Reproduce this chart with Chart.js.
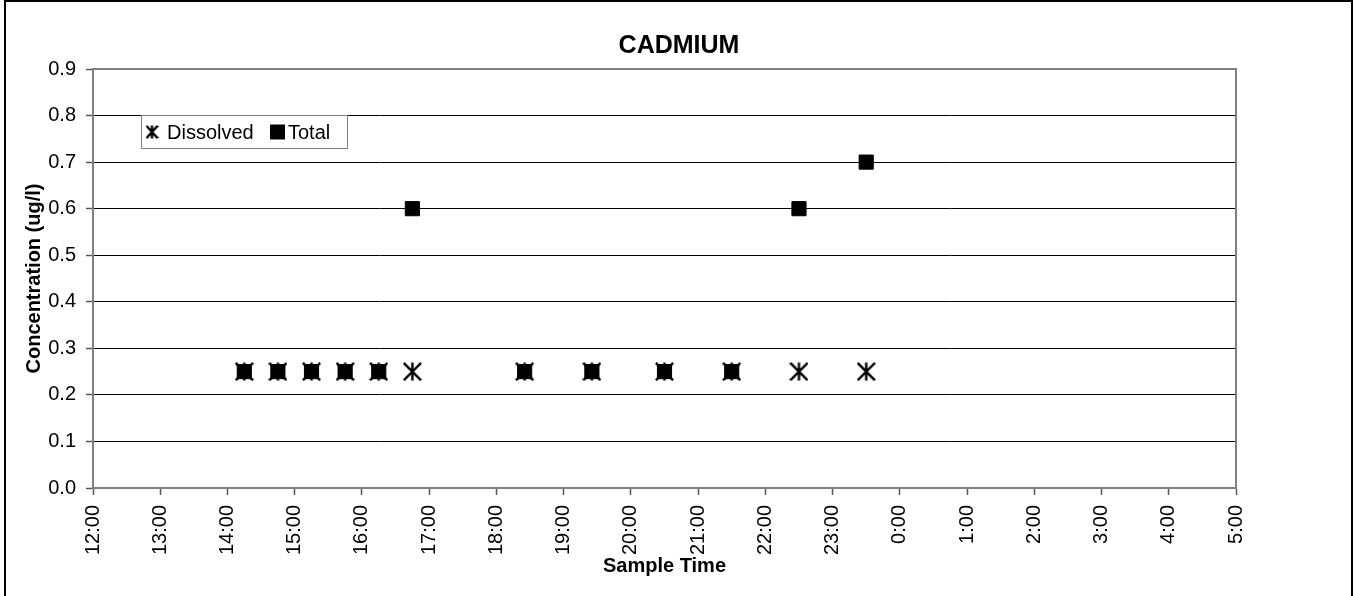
<!DOCTYPE html>
<html>
<head>
<meta charset="utf-8">
<title>CADMIUM</title>
<script src="https://cdn.jsdelivr.net/npm/chart.js@4.4.1/dist/chart.umd.min.js"></script>
<style>
  html, body { margin: 0; padding: 0; background: #fff; }
  #wrap { width: 1355px; height: 596px; }
</style>
</head>
<body>
<div id="wrap"><canvas id="cadChart" width="1355" height="596"></canvas></div>
<script>
// sample times in hours after midnight of day 1 (24+ = next day)
const sampleTimes = [14.25, 14.75, 15.25, 15.75, 16.25, 16.75, 18.42, 19.42, 20.5, 21.5, 22.5, 23.5]
const dissolved = [0.25, 0.25, 0.25, 0.25, 0.25, 0.25, 0.25, 0.25, 0.25, 0.25, 0.25, 0.25]
const total = [0.25, 0.25, 0.25, 0.25, 0.25, 0.6, 0.25, 0.25, 0.25, 0.25, 0.6, 0.7]
const seriesNames = ["Dissolved", "Total"]
const chartTitle = "CADMIUM"
const yTitle = "Concentration (ug/l)"
const xTitle = "Sample Time"

const FONT = "'Liberation Sans', Arial, sans-serif"

Chart.defaults.font.family = FONT
Chart.defaults.color = "#000"

// Excel style star marker: X plus a vertical bar
function starMarker(w, h, lw) {
  const c = document.createElement("canvas")
  c.width = w
  c.height = h
  const g = c.getContext("2d")
  g.strokeStyle = "#000"
  g.lineWidth = lw
  g.lineCap = "square"
  const p = lw / 2 + 0.5
  g.beginPath()
  g.moveTo(p, p)
  g.lineTo(w - p, h - p)
  g.moveTo(w - p, p)
  g.lineTo(p, h - p)
  g.moveTo(w / 2, p)
  g.lineTo(w / 2, h - p)
  g.stroke()
  return c
}

const toPoints = (vals) => sampleTimes.map((t, i) => ({ x: t, y: vals[i] }))

// frame, plot border, title and the legend box
const decorations = {
  id: "decorations",
  beforeDraw(chart) {
    const ctx = chart.ctx
    ctx.save()
    ctx.fillStyle = "#fff"
    ctx.fillRect(0, 0, chart.width, chart.height)
    ctx.strokeStyle = "#000"
    ctx.lineWidth = 2
    ctx.strokeRect(5, 1, 1347, 700)
    ctx.restore()
  },
  afterDraw(chart) {
    const ctx = chart.ctx
    const a = chart.chartArea
    ctx.save()
    // top and right plot border
    ctx.strokeStyle = "#808080"
    ctx.lineWidth = 2
    ctx.beginPath()
    ctx.moveTo(a.left, a.top)
    ctx.lineTo(a.right, a.top)
    ctx.lineTo(a.right, a.bottom)
    ctx.stroke()

    // title
    ctx.fillStyle = "#000"
    ctx.font = "bold 25px " + FONT
    ctx.textAlign = "center"
    ctx.textBaseline = "middle"
    ctx.fillText(chartTitle, 679, 46)

    // legend
    const lx = 141, ly = 115, lw = 206, lh = 33
    ctx.fillStyle = "#fff"
    ctx.fillRect(lx, ly, lw, lh)
    ctx.strokeStyle = "#808080"
    ctx.lineWidth = 1
    ctx.strokeRect(lx + 0.5, ly + 0.5, lw, lh)
    const cy = ly + lh / 2 + 0.5
    const st = starMarker(13, 14, 2.4)
    ctx.drawImage(st, 152 - 6.5, cy - 7)
    ctx.fillStyle = "#000"
    ctx.font = "20px " + FONT
    ctx.textAlign = "left"
    ctx.textBaseline = "middle"
    ctx.fillText(seriesNames[0], 167, cy + 1)
    ctx.fillRect(270, cy - 7.5, 15, 15)
    ctx.fillText(seriesNames[1], 288, cy + 1)
    ctx.restore()
  },
}

const ctx = document.getElementById("cadChart").getContext("2d")
new Chart(ctx, {
  type: "scatter",
  data: {
    datasets: [
      {
        label: seriesNames[1],
        data: toPoints(total),
        pointStyle: "rect",
        pointRadius: 10,
        backgroundColor: "#000",
        borderColor: "#000",
        borderWidth: 1,
      },
      {
        label: seriesNames[0],
        data: toPoints(dissolved),
        pointStyle: starMarker(19, 19, 2.4),
        pointRadius: 9,
        backgroundColor: "#000",
        borderColor: "#000",
      },
    ],
  },
  options: {
    responsive: false,
    animation: false,
    events: [],
    layout: { padding: { top: 69, right: 119, left: 0, bottom: 0 } },
    plugins: {
      legend: { display: false },
      tooltip: { enabled: false },
      title: { display: false },
    },
    scales: {
      x: {
        type: "linear",
        min: 12,
        max: 29,
        afterFit: (s) => { s.height = 108 },
        ticks: {
          stepSize: 1,
          autoSkip: false,
          minRotation: 90,
          maxRotation: 90,
          padding: 10,
          font: { size: 20 },
          color: "#000",
          callback: (v) => (v % 24) + ":00",
        },
        grid: {
          drawOnChartArea: false,
          drawTicks: true,
          tickLength: 7,
          tickColor: "#555",
          tickWidth: 1.5,
        },
        border: { color: "#808080", width: 2 },
        title: {
          display: true,
          text: xTitle,
          font: { size: 20, weight: "bold" },
          color: "#000",
          padding: { top: 0, bottom: 18 },
        },
      },
      y: {
        min: 0,
        max: 0.9,
        afterFit: (s) => { s.width = 93 },
        ticks: {
          stepSize: 0.1,
          padding: 10,
          font: { size: 20 },
          color: "#000",
          callback: (v) => v.toFixed(1),
        },
        grid: {
          color: "#000",
          lineWidth: 1,
          tickLength: 7,
          tickColor: "#555",
          tickWidth: 1.5,
        },
        border: { color: "#808080", width: 2 },
        title: {
          display: true,
          text: yTitle,
          font: { size: 20, weight: "bold" },
          color: "#000",
          padding: { top: 22, bottom: 0 },
        },
      },
    },
  },
  plugins: [decorations],
})
</script>
</body>
</html>
